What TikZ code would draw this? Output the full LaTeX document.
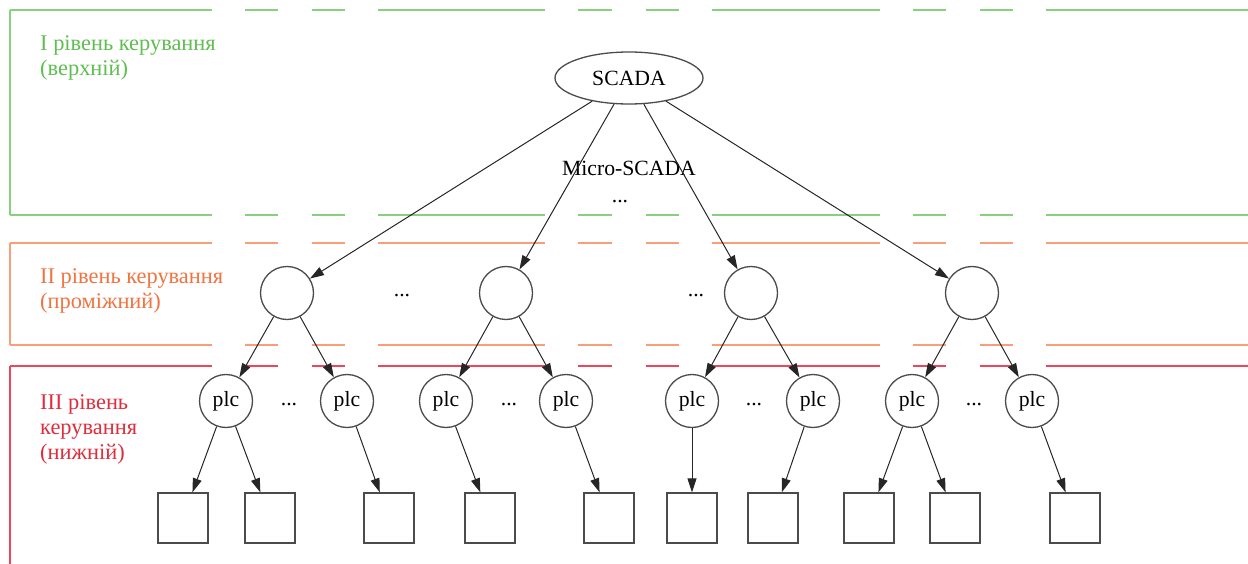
\documentclass[tikz,border=0pt]{standalone}
\usepackage{fontspec}
\setmainfont{Liberation Serif}
\usetikzlibrary{arrows.meta,shapes.geometric}
\definecolor{gline}{RGB}{135,208,125}
\definecolor{gtext}{RGB}{95,190,80}
\definecolor{oline}{RGB}{248,158,120}
\definecolor{otext}{RGB}{240,115,65}
\definecolor{rline}{RGB}{236,70,90}
\definecolor{rtext}{RGB}{222,45,60}
\definecolor{nodegray}{RGB}{75,75,75}
\newcommand{\gapline}[2]{%
  \foreach \xa/\xb in {10/212,245/278,312/345,378/545,578/612,646/679,712/880,913/946,980/1013,1046/1248}
    {\draw[#1] (\xa,#2) -- (\xb,#2);}}
\begin{document}
\begin{tikzpicture}[x=1pt,y=-1pt,
  every node/.style={font=\fontsize{21.7}{24.8}\selectfont},
  topnode/.style={ellipse,draw=nodegray,line width=1.3pt,minimum width=148pt,minimum height=52pt,inner sep=0pt},
  midnode/.style={circle,draw=nodegray,line width=1.3pt,minimum size=53pt,inner sep=0pt},
  leafnode/.style={draw=nodegray,line width=1.3pt,minimum size=50pt,inner sep=0pt},
  conn/.style={-{Triangle[length=14pt,width=9pt]},line width=1pt,black!85},
  lvl/.style={align=left,anchor=north west,inner sep=0pt,font=\fontsize{22.4}{25}\selectfont},
  gbox/.style={gline,line width=1.6pt},
  obox/.style={oline,line width=1.6pt},
  rbox/.style={rline,line width=1.4pt}
]
\useasboundingbox (0,0) rectangle (1248,564);
% level boxes
\gapline{gbox}{10}
\gapline{gbox}{215}
\draw[gbox] (10,10) -- (10,215);
\gapline{obox}{243}
\gapline{obox}{345}
\draw[obox] (10,243) -- (10,345);
\gapline{rbox}{366}
\draw[rbox] (10,366) -- (10,564);
% level labels
\node[lvl,text=gtext] (l1) at (40,35) {I рівень керування\\(верхній)};
\node[lvl,text=otext] (l2) at (40,268) {II рівень керування\\(проміжний)};
\node[lvl,text=rtext] (l3) at (40,394) {III рівень\\керування\\(нижній)};
% top
\node[topnode] (scada) at (629,78) {SCADA};
\node (micro) at (629,168) {Micro-SCADA};
\node (dtop) at (620,202) {...};
% level 2
\node[midnode] (m1) at (287,293) {};
\node[midnode] (m2) at (506,293) {};
\node[midnode] (m3) at (751,293) {};
\node[midnode] (m4) at (972,293) {};
\node (dm1) at (402,296) {...};
\node (dm2) at (696,296) {...};
% plc
\foreach \i/\x in {1/226,2/347,3/446,4/566,5/692,6/813,7/912,8/1032}
  \node[midnode] (p\i) at (\x,401) {plc};
\foreach \i/\x in {1/289,2/509,3/754,4/974}
  \node (dp\i) at (\x,405) {...};
% leaves
\foreach \i/\x in {1/183,2/270,3/389,4/490,5/609,6/692,7/773,8/869,9/955,10/1075}
  \node[leafnode] (s\i) at (\x,518) {};
% connectors
\foreach \m in {1,2,3,4} \draw[conn] (scada) -- (m\m);
\draw[conn] (m1) -- (p1); \draw[conn] (m1) -- (p2);
\draw[conn] (m2) -- (p3); \draw[conn] (m2) -- (p4);
\draw[conn] (m3) -- (p5); \draw[conn] (m3) -- (p6);
\draw[conn] (m4) -- (p7); \draw[conn] (m4) -- (p8);
\draw[conn] (p1) -- (s1); \draw[conn] (p1) -- (s2);
\draw[conn] (p2) -- (s3);
\draw[conn] (p3) -- (s4);
\draw[conn] (p4) -- (s5);
\draw[conn] (p5) -- (s6);
\draw[conn] (p6) -- (s7);
\draw[conn] (p7) -- (s8); \draw[conn] (p7) -- (s9);
\draw[conn] (p8) -- (s10);
\end{tikzpicture}
\end{document}
